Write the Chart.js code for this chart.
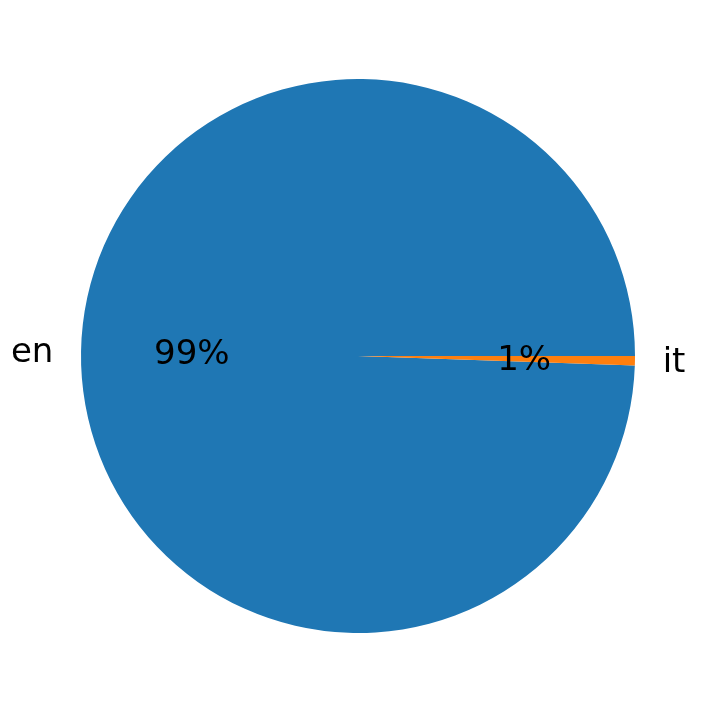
<!DOCTYPE html>
<html>
<head>
<meta charset="utf-8">
<script src="https://cdn.jsdelivr.net/npm/chart.js@4"></script>
<style>
  html, body { margin: 0; padding: 0; background: #fff; }
  #wrap { width: 714px; height: 713px; }
</style>
</head>
<body>
<div id="wrap"><canvas id="pieChart" width="714" height="713"></canvas></div>
<script>
// Language share data
const labels = ['en', 'it'];
const shares = [99.45, 0.55];
const colors = ['#1f77b4', '#ff7f0e'];

const FONT = '34px "DejaVu Sans"';

// Draw outer labels and percentage labels like matplotlib's pie
const pieLabels = {
    id: 'pieLabels',
    afterDraw(chart) {
        const ctx = chart.ctx;
        const arcs = chart.getDatasetMeta(0).data;
        const total = shares.reduce((a, b) => a + b, 0);
        ctx.save();
        ctx.font = FONT;
        ctx.fillStyle = '#000';
        arcs.forEach((arc, i) => {
            const mid = (arc.startAngle + arc.endAngle) / 2;
            const r = arc.outerRadius;
            const cos = Math.cos(mid);
            const sin = Math.sin(mid);

            // outer category label at 1.1 r
            const lx = arc.x + cos * r * 1.1;
            const ly = arc.y + sin * r * 1.1;
            ctx.textAlign = cos < 0 ? 'right' : 'left';
            drawCentered(ctx, labels[i], lx, ly);

            // percentage at 0.6 r
            const px = arc.x + cos * r * 0.6;
            const py = arc.y + sin * r * 0.6;
            ctx.textAlign = 'center';
            drawCentered(ctx, Math.round(shares[i] / total * 100) + '%', px, py);
        });
        ctx.restore();
    }
};

function drawCentered(ctx, text, x, y) {
    ctx.textBaseline = 'alphabetic';
    const m = ctx.measureText(text);
    const asc = m.fontBoundingBoxAscent;
    const desc = m.fontBoundingBoxDescent;
    ctx.fillText(text, x, y + (asc - desc) / 2 - 1);
}

document.addEventListener('DOMContentLoaded', () => {
    const total = shares.reduce((a, b) => a + b, 0);
    const ctx = document.getElementById('pieChart').getContext('2d');

    new Chart(ctx, {
        type: 'pie',
        data: {
            labels: labels,
            datasets: [{
                data: shares,
                backgroundColor: colors,
                borderWidth: 0
            }]
        },
        options: {
            responsive: false,
            animation: false,
            // matplotlib starts at 3 o'clock going counter-clockwise
            rotation: 90 + shares[1] / total * 360,
            layout: {
                padding: { left: 81, right: 79, top: 79, bottom: 80 }
            },
            plugins: {
                legend: { display: false },
                tooltip: { enabled: false }
            }
        },
        plugins: [pieLabels]
    });
});
</script>
</body>
</html>
